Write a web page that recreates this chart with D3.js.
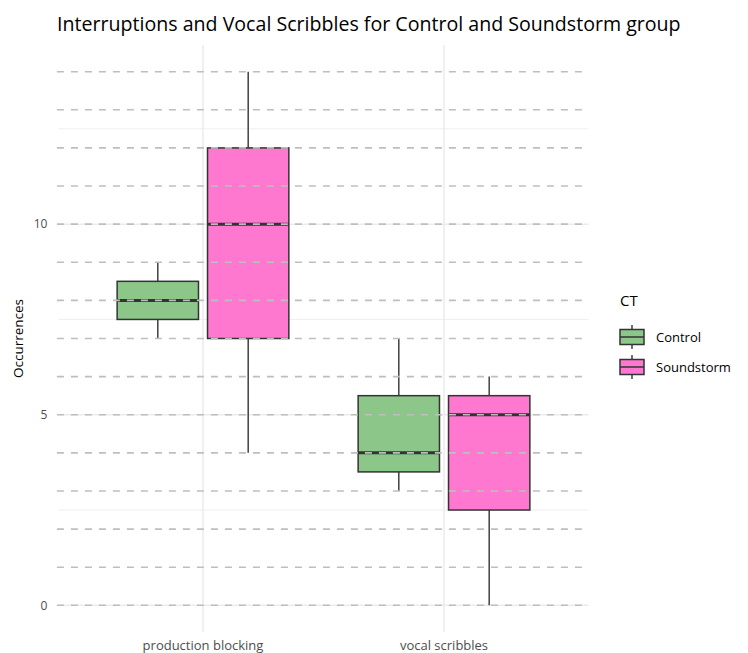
<!DOCTYPE html>
<html>
<head>
<meta charset="utf-8">
<script src="https://cdn.jsdelivr.net/npm/d3@7"></script>
<style>
  body { margin: 0; background: #fff; }
  text { font-family: "Open Sans", "Noto Sans", sans-serif; }
</style>
</head>
<body>
<script>
// data
var categories = ["production blocking", "vocal scribbles"]
var groups = ["Control", "Soundstorm"]
var fills = ["#8cc689", "#ff78d0"]

// [category][group]
var whiskLow = [[7, 4], [3, 0]]
var q1 = [[7.5, 7], [3.5, 2.5]]
var median = [[8, 10], [4, 5]]
var q3 = [[8.5, 12], [5.5, 5.5]]
var whiskHigh = [[9, 14], [7, 6]]

var yTicks = [0, 5, 10]
var yMinor = [2.5, 7.5, 12.5]
var refLines = [0, 1, 2, 3, 4, 5, 6, 7, 8, 9, 10, 11, 12, 13, 14]

var W = 748, H = 653
var panel = {left: 58.4, right: 588.6, top: 45, bottom: 632}

var svg = d3.select("body").append("svg")
    .attr("width", W)
    .attr("height", H)

// scales
var x = d3.scaleBand()
    .domain(categories)
    .range([panel.left, panel.right])
    .paddingInner(0.25)
    .paddingOuter(0.225)

var xg = d3.scaleBand()
    .domain(groups)
    .range([0, x.bandwidth()])
    .paddingInner(0.1)
    .paddingOuter(0.05)

var y = d3.scaleLinear()
    .domain([-0.7, 14.7])
    .range([panel.bottom, panel.top])

var color = d3.scaleOrdinal().domain(groups).range(fills)

// grid
var grid = svg.append("g")
grid.selectAll(".minor").data(yMinor).enter().append("line")
    .attr("x1", panel.left).attr("x2", panel.right)
    .attr("y1", d => y(d)).attr("y2", d => y(d))
    .attr("stroke", "#ebebeb").attr("stroke-width", 0.8)
grid.selectAll(".major").data(yTicks).enter().append("line")
    .attr("x1", panel.left).attr("x2", panel.right)
    .attr("y1", d => y(d)).attr("y2", d => y(d))
    .attr("stroke", "#ebebeb").attr("stroke-width", 1.5)
grid.selectAll(".vmajor").data(categories).enter().append("line")
    .attr("x1", d => x(d) + x.bandwidth() / 2).attr("x2", d => x(d) + x.bandwidth() / 2)
    .attr("y1", panel.top).attr("y2", panel.bottom)
    .attr("stroke", "#ebebeb").attr("stroke-width", 1.5)

// boxes
var boxes = []
categories.forEach(function(c, i) {
    groups.forEach(function(g, j) {
        boxes.push({cat: c, grp: g, lo: whiskLow[i][j], q1: q1[i][j], med: median[i][j], q3: q3[i][j], hi: whiskHigh[i][j]})
    })
})

var bx = svg.append("g").selectAll("g").data(boxes).enter().append("g")
    .attr("transform", d => "translate(" + (x(d.cat) + xg(d.grp)) + ",0)")

var bw = xg.bandwidth()

bx.append("line")
    .attr("x1", bw / 2).attr("x2", bw / 2)
    .attr("y1", d => y(d.hi)).attr("y2", d => y(d.q3))
    .attr("stroke", "#333").attr("stroke-width", 1.4)
bx.append("line")
    .attr("x1", bw / 2).attr("x2", bw / 2)
    .attr("y1", d => y(d.q1)).attr("y2", d => y(d.lo))
    .attr("stroke", "#333").attr("stroke-width", 1.4)
bx.append("rect")
    .attr("x", 0).attr("width", bw)
    .attr("y", d => y(d.q3)).attr("height", d => y(d.q1) - y(d.q3))
    .attr("fill", d => color(d.grp))
    .attr("stroke", "#333").attr("stroke-width", 1.5)
bx.append("line")
    .attr("x1", 0).attr("x2", bw)
    .attr("y1", d => y(d.med)).attr("y2", d => y(d.med))
    .attr("stroke", "#333").attr("stroke-width", 3)

// dashed reference lines on top
svg.append("g").selectAll("line").data(refLines).enter().append("line")
    .attr("x1", panel.left - 1.5).attr("x2", panel.right - 3)
    .attr("y1", d => y(d)).attr("y2", d => y(d))
    .attr("stroke", "#bebebe").attr("stroke-width", 1.6)
    .attr("stroke-dasharray", "7,7")

// axes text
svg.append("g").selectAll("text").data(yTicks).enter().append("text")
    .attr("x", panel.left - 11).attr("y", d => y(d))
    .attr("dy", "0.35em").attr("text-anchor", "end")
    .attr("font-size", 12).attr("fill", "#4d4d4d")
    .text(d => d)

svg.append("g").selectAll("text").data(categories).enter().append("text")
    .attr("x", d => x(d) + x.bandwidth() / 2).attr("y", 650)
    .attr("text-anchor", "middle")
    .attr("font-size", 13).attr("fill", "#4d4d4d")
    .text(d => d)

svg.append("text")
    .attr("transform", "translate(23," + ((panel.top + panel.bottom) / 2) + ") rotate(-90)")
    .attr("text-anchor", "middle")
    .attr("font-size", 13.5).attr("fill", "#000")
    .text("Occurrences")

svg.append("text")
    .attr("x", 57).attr("y", 31)
    .attr("font-size", 19.6).attr("fill", "#000")
    .text("Interruptions and Vocal Scribbles for Control and Soundstorm group")

// legend
var leg = svg.append("g").attr("transform", "translate(617,296)")
leg.append("text").attr("x", 3).attr("y", 10)
    .attr("font-size", 15).attr("fill", "#000").text("CT")

var key = leg.selectAll(".key").data(groups).enter().append("g")
    .attr("transform", (d, i) => "translate(0," + (26 + i * 30) + ")")
key.append("line").attr("x1", 15).attr("x2", 15).attr("y1", 3).attr("y2", 27)
    .attr("stroke", "#333").attr("stroke-width", 1.4)
key.append("rect").attr("x", 3).attr("y", 7.5).attr("width", 24).attr("height", 15)
    .attr("fill", d => color(d)).attr("stroke", "#333").attr("stroke-width", 1.5)
key.append("line").attr("x1", 3).attr("x2", 27).attr("y1", 15).attr("y2", 15)
    .attr("stroke", "#333").attr("stroke-width", 1.5)
key.append("text").attr("x", 39).attr("y", 15).attr("dy", "0.35em")
    .attr("font-size", 13).attr("fill", "#000")
    .text(d => d)
</script>
</body>
</html>
